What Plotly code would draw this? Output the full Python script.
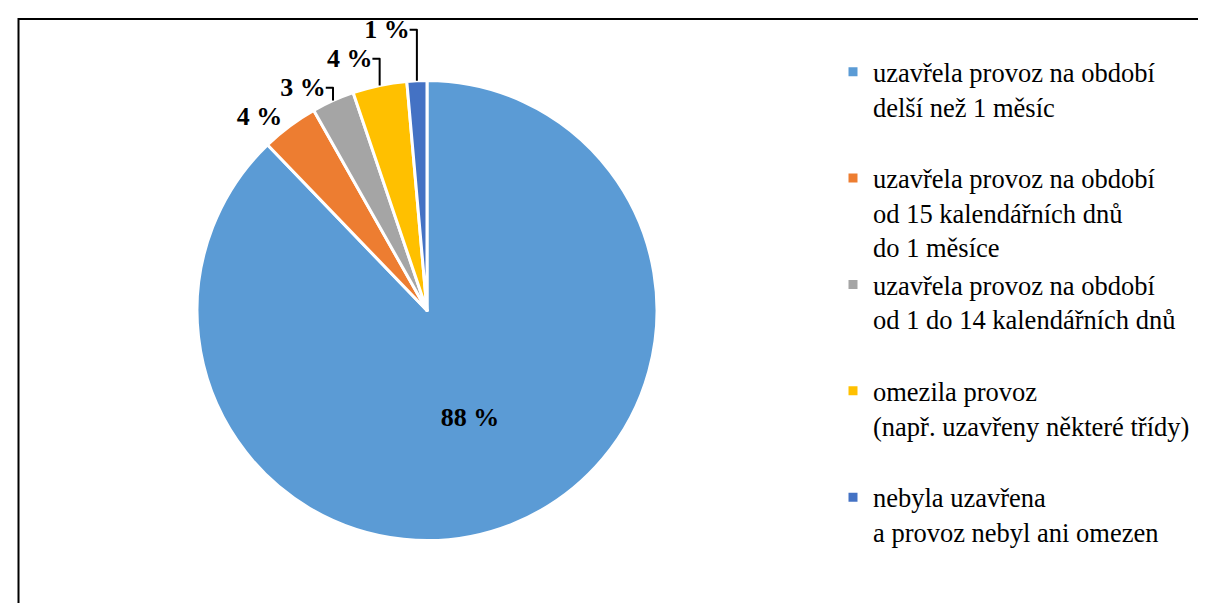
import plotly.graph_objects as go

categories = [
    "uzavřela provoz na období<br>delší než 1 měsíc<br> ",
    "uzavřela provoz na období<br>od 15 kalendářních dnů<br>do 1 měsíce",
    "uzavřela provoz na období<br>od 1 do 14 kalendářních dnů<br> ",
    "omezila provoz<br>(např. uzavřeny některé třídy)<br> ",
    "nebyla uzavřena<br>a provoz nebyl ani omezen<br> ",
]
values = [87.8, 4.0, 3.0, 3.8, 1.4]
colors = ["#5B9BD5", "#ED7D31", "#A5A5A5", "#FFC000", "#4472C4"]
text_positions = ["inside", "outside", "outside", "outside", "outside"]

W, H = 1206, 603
FONT = "Liberation Serif"

fig = go.Figure(
    go.Pie(
        labels=categories,
        values=values,
        sort=False,
        direction="clockwise",
        rotation=0,
        marker=dict(colors=colors, line=dict(color="white", width=3)),
        texttemplate="%{value:.0f} %",
        textposition=text_positions,
        insidetextorientation="horizontal",
        textfont=dict(family=FONT, size=26, color="black", weight="bold"),
        domain=dict(x=[189 / W, 649 / W], y=[(H - 532.5) / H, (H - 72.5) / H]),
        hoverinfo="skip",
    )
)

fig.update_layout(
    width=W,
    height=H,
    margin=dict(l=0, r=0, t=0, b=0),
    paper_bgcolor="white",
    plot_bgcolor="white",
    font=dict(family=FONT, size=26.5, color="black"),
    showlegend=True,
    legend=dict(
        x=825 / W,
        y=(H - 40) / H,
        xanchor="left",
        yanchor="top",
        valign="top",
        font=dict(family=FONT, size=26.5, color="black"),
        bgcolor="rgba(0,0,0,0)",
    ),
    shapes=[
        dict(
            type="rect", xref="paper", yref="paper",
            x0=10.5 / W, x1=1.05, y0=-0.05, y1=(H - 11) / H,
            line=dict(color="black", width=2), fillcolor="rgba(0,0,0,0)",
        )
    ],
)

fig.write_html("out.html")
